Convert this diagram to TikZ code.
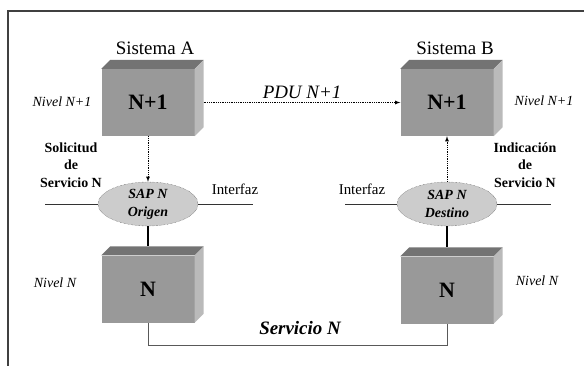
\documentclass[tikz,border=0pt]{standalone}
\usepackage{fontspec}
\setmainfont{Liberation Serif}
\usetikzlibrary{arrows,calc,positioning,shapes.geometric}

\definecolor{frontgray}{gray}{0.6}
\definecolor{topgray}{gray}{0.45}
\definecolor{sidegray}{gray}{0.73}
\definecolor{sapgray}{gray}{0.8}

\begin{document}
\begin{tikzpicture}[
	x=1bp, y=-1bp,
  > = latex,
  box/.style = {fill=frontgray, minimum width=93bp, minimum height=67bp, inner sep=0pt, font=\fontsize{22}{24}\selectfont\bfseries},
  sap/.style = {ellipse, draw=black!75, densely dotted, fill=sapgray, minimum width=100bp, minimum height=44bp, inner sep=0pt, align=center, font=\fontsize{14}{18}\selectfont\bfseries\itshape},
  big/.style = {font=\fontsize{19}{22}\selectfont},
  nivel/.style = {font=\fontsize{14}{17}\selectfont\itshape},
  dotarrow/.style = {->, densely dotted, thick},
  iface/.style = {draw=black!80, line width=0.8bp}
  ]
	\useasboundingbox (0,0) rectangle (584,365);

	% frame
	\draw[black!75, line width=1.5bp] (8,370) -- (8,11) -- (590,11);

	\coordinate (@1) at (45,204);
	\coordinate (@2) at (253,204);
	\coordinate (@3) at (345,204);
	\coordinate (@4) at (551,204);

	\node[box] (a1) at (148,102.5) {N+1};
	\node[box] (b1) at (447,102.5) {N+1};
	\node[box] (a0) at (148,289) {N};
	\node[box] (b0) at (447,290) {N};

	\fill[topgray] (a1.north west) -- ++(9,-9) -- ($(a1.north east)+(9,-9)$) -- (a1.north east) -- cycle;
	\fill[sidegray] (a1.north east) -- ++(9,-9) -- ($(a1.south east)+(9,-9)$) -- (a1.south east) -- cycle;
	\fill[topgray] (b1.north west) -- ++(9,-9) -- ($(b1.north east)+(9,-9)$) -- (b1.north east) -- cycle;
	\fill[sidegray] (b1.north east) -- ++(9,-9) -- ($(b1.south east)+(9,-9)$) -- (b1.south east) -- cycle;
	\fill[topgray] (a0.north west) -- ++(9,-9) -- ($(a0.north east)+(9,-9)$) -- (a0.north east) -- cycle;
	\fill[sidegray] (a0.north east) -- ++(9,-9) -- ($(a0.south east)+(9,-9)$) -- (a0.south east) -- cycle;
	\fill[topgray] (b0.north west) -- ++(9,-9) -- ($(b0.north east)+(9,-9)$) -- (b0.north east) -- cycle;
	\fill[sidegray] (b0.north east) -- ++(9,-9) -- ($(b0.south east)+(9,-9)$) -- (b0.south east) -- cycle;

	\node[sap] (sapA) at (148,204) {SAP N\\Origen};
	\node[sap] (sapB) at (447,204) {SAP N\\Destino};

	\draw[iface] (@1) -- (sapA.west);
	\draw[iface] (sapA.east) -- (@2);
	\draw[iface] (@3) -- (sapB.west);
	\draw[iface] (sapB.east) -- (@4);

	\draw[line width=2.5bp] (sapA.south) -- ($(a0.north)+(0,-9)$);
	\draw[line width=2.5bp] (sapB.south) -- ($(b0.north)+(0,-9)$);

	\draw[dotarrow] (a1.south) -- (sapA.north);
	\draw[dotarrow] (sapB.north) -- (b1.south);
	\draw[dotarrow] ($(a1.east)+(9,0)$) -- node[above, font=\fontsize{19}{22}\selectfont\itshape] (pdu) {PDU N+1} (b1.west);

	\draw[black!65, line width=1bp] (a0.south) -- ++(0,23) -| (b0.south);

	\node[big] (sysA) at (155,48) {Sistema A};
	\node[big] (sysB) at (455,48) {Sistema B};
	\node[font=\fontsize{19}{22}\selectfont\bfseries\itshape] (srv) at (300,328) {Servicio N};

	\node[nivel] (nivA1) at (62,102) {Nivel N+1};
	\node[nivel] (nivB1) at (544,101) {Nivel N+1};
	\node[nivel] (nivA0) at (55,283) {Nivel N};
	\node[nivel] (nivB0) at (537,281) {Nivel N};

	\node[align=center, font=\fontsize{14}{17.5}\selectfont\bfseries] (solA) at (71,165) {Solicitud\\de\\Servicio N};
	\node[align=center, font=\fontsize{14}{17.5}\selectfont\bfseries] (indB) at (525,165) {Indicación\\de\\Servicio N};

	\node[font=\fontsize{15}{18}\selectfont] (ifA) at (235,189) {Interfaz};
	\node[font=\fontsize{15}{18}\selectfont] (ifB) at (362,189) {Interfaz};

\end{tikzpicture}
\end{document}
